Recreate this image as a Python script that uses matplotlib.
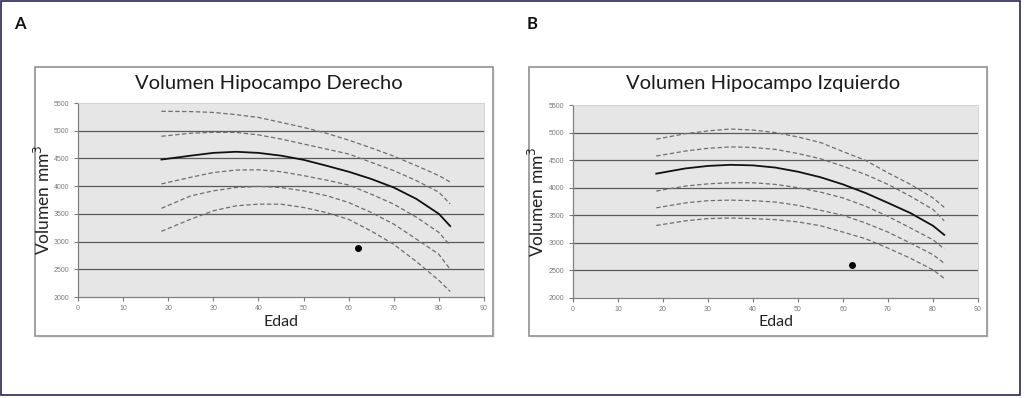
import matplotlib
matplotlib.use("Agg")
import matplotlib.pyplot as plt
from matplotlib.patches import Rectangle

# ---- data ----
edad = [18.5, 25, 30, 35, 40, 45, 50, 55, 60, 65, 70, 75, 80, 82.5]

# Panel A: Volumen Hipocampo Derecho
a_p2 = [5350, 5345, 5330, 5290, 5240, 5150, 5060, 4955, 4830, 4690, 4540, 4370, 4190, 4075]
a_p1 = [4900, 4955, 4970, 4970, 4925, 4850, 4760, 4670, 4580, 4430, 4280, 4100, 3890, 3680]
a_mean = [4480, 4550, 4600, 4620, 4600, 4550, 4475, 4370, 4260, 4130, 3975, 3770, 3500, 3280]
a_m1 = [4040, 4160, 4245, 4290, 4295, 4260, 4190, 4110, 4020, 3855, 3675, 3440, 3165, 2930]
a_m2 = [3600, 3825, 3915, 3975, 3995, 3975, 3915, 3830, 3705, 3525, 3315, 3045, 2770, 2500]
a_m3 = [3185, 3405, 3555, 3645, 3675, 3675, 3615, 3525, 3400, 3190, 2950, 2640, 2300, 2100]
a_point = (62, 2880)

# Panel B: Volumen Hipocampo Izquierdo
b_p2 = [4880, 4980, 5030, 5065, 5045, 5000, 4920, 4820, 4655, 4495, 4270, 4060, 3815, 3645]
b_p1 = [4575, 4665, 4715, 4740, 4730, 4695, 4620, 4525, 4390, 4240, 4060, 3845, 3605, 3400]
b_mean = [4255, 4350, 4395, 4415, 4405, 4365, 4290, 4190, 4060, 3905, 3725, 3540, 3310, 3145]
b_m1 = [3940, 4030, 4070, 4090, 4090, 4060, 4000, 3920, 3815, 3665, 3480, 3270, 3055, 2890]
b_m2 = [3635, 3725, 3765, 3775, 3765, 3740, 3680, 3590, 3500, 3360, 3195, 2995, 2785, 2630]
b_m3 = [3315, 3400, 3440, 3450, 3440, 3420, 3380, 3310, 3195, 3075, 2905, 2720, 2510, 2355]
b_point = (62, 2600)

xticks = list(range(0, 91, 10))
yticks = list(range(2000, 5501, 500))
titles = ["Volumen Hipocampo Derecho", "Volumen Hipocampo Izquierdo"]
panel_labels = ["A", "B"]

W, H = 1024, 398
fig = plt.figure(figsize=(W / 100, H / 100), dpi=100)
fig.patch.set_facecolor("white")

def fx(px):
    return px / W

def fy(py):
    return 1 - py / H

# outer border of figure
fig.patches.append(Rectangle((fx(1), fy(395)), fx(1020) - fx(1), fy(1) - fy(395),
                             transform=fig.transFigure, fill=False,
                             edgecolor="#2a2850", linewidth=1.2, zorder=-3))

panels = [
    dict(box=(35, 67, 493, 336), ax=(78, 103, 484, 297), lab=(14, 24), ylab_x=53,
         series=[a_p2, a_p1, a_m1, a_m2, a_m3], mean=a_mean, point=a_point),
    dict(box=(529, 67, 987, 336), ax=(573, 105, 978, 298), lab=(527, 24), ylab_x=547,
         series=[b_p2, b_p1, b_m1, b_m2, b_m3], mean=b_mean, point=b_point),
]

for i, p in enumerate(panels):
    bx0, by0, bx1, by1 = p["box"]
    # shadow + chart frame
    fig.patches.append(Rectangle((fx(bx0 + 2), fy(by1 + 2)), fx(bx1 - bx0), fy(by0) - fy(by1),
                                 transform=fig.transFigure, facecolor="#f0f0f0",
                                 edgecolor="none", zorder=-2))
    fig.patches.append(Rectangle((fx(bx0), fy(by1)), fx(bx1 - bx0), fy(by0) - fy(by1),
                                 transform=fig.transFigure, facecolor="white",
                                 edgecolor="#9a9a9a", linewidth=1.3, zorder=-1))
    ax0, ay0, ax1, ay1 = p["ax"]
    ax = fig.add_axes([fx(ax0), fy(ay1), fx(ax1 - ax0), fy(ay0) - fy(ay1)])
    ax.set_zorder(1)
    ax.set_facecolor("#e6e6e6")
    ax.set_xlim(0, 90)
    ax.set_ylim(2000, 5500)
    ax.set_xticks(xticks)
    ax.set_yticks(yticks)
    ax.tick_params(axis="both", labelsize=5, colors="#7a7a7a", length=3,
                   width=0.8, direction="out", pad=3)
    for lbl in ax.get_xticklabels() + ax.get_yticklabels():
        lbl.set_family("Liberation Sans")
    for yv in yticks[1:-1]:
        ax.axhline(yv, color="#5a5a5a", linewidth=0.9, zorder=1)
    for s in ["top", "right"]:
        ax.spines[s].set_color("#d0d0d0")
        ax.spines[s].set_linewidth(0.6)
    for s in ["left", "bottom"]:
        ax.spines[s].set_color("#808080")
        ax.spines[s].set_linewidth(0.9)
    for ser in p["series"]:
        ax.plot(edad, ser, color="#6e6e6e", linewidth=0.9, linestyle=(0, (3.5, 2)), zorder=2)
    ax.plot(edad, p["mean"], color="#111111", linewidth=1.3, zorder=3)
    ax.plot([p["point"][0]], [p["point"][1]], "o", color="black", markersize=4, zorder=4)
    ax.set_xlabel("Edad", fontsize=11.5, family="Lato", color="#222222")
    ax.xaxis.set_label_coords(0.5, (ay1 - 315) / (ay1 - ay0))
    ax.set_ylabel("Volumen mm$^3$", fontsize=12.5, family="Lato", color="#222222")
    ax.yaxis.set_label_coords((p["ylab_x"] - ax0) / (ax1 - ax0), 0.5)
    fig.text(fx((bx0 + bx1) / 2 + 5), fy(84), titles[i], fontsize=14.5, family="Lato",
             ha="center", va="center", color="#1a1a1a")
    fig.text(fx(p["lab"][0]), fy(p["lab"][1]), panel_labels[i], fontsize=12,
             family="Lato", fontweight="bold", ha="left", va="center", color="#111111")

fig.savefig("out.png", dpi=100)
